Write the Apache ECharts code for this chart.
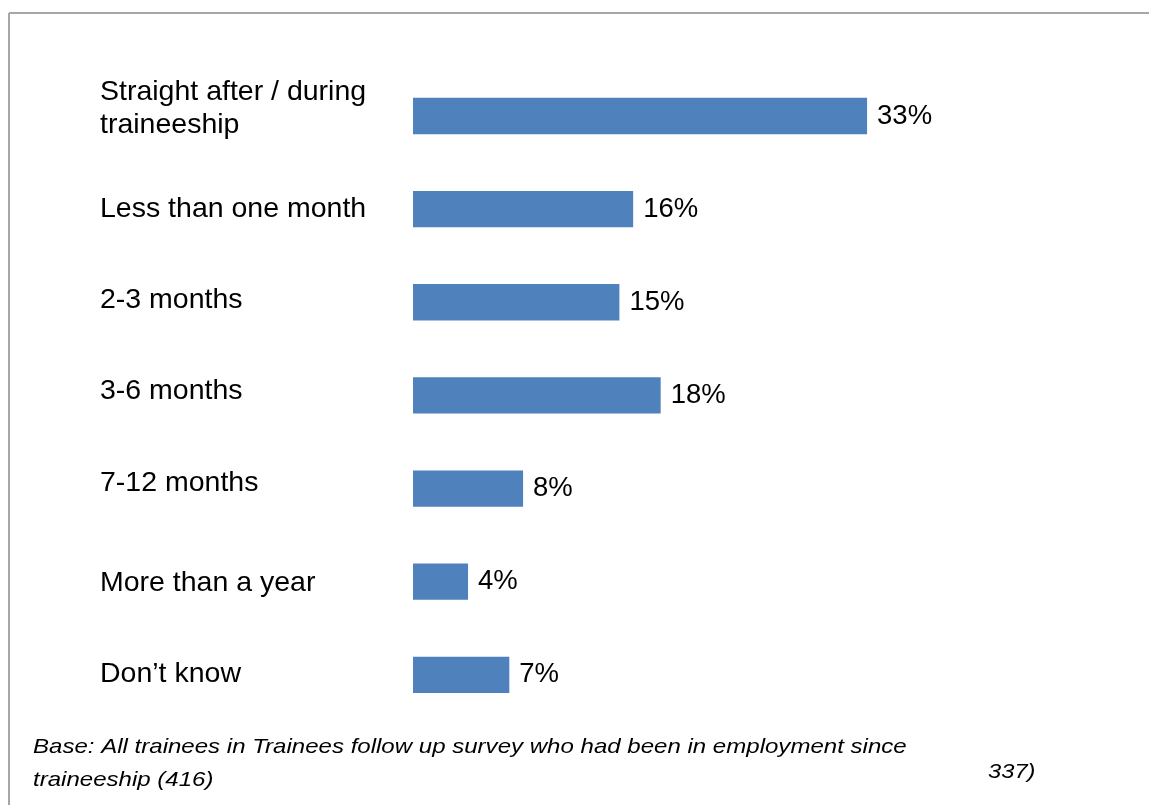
<!DOCTYPE html>
<html>
<head>
<meta charset="utf-8">
<style>
  html, body { margin: 0; padding: 0; background: #ffffff; }
  #chart { width: 1149px; height: 805px; }
</style>
<script src="https://cdn.jsdelivr.net/npm/echarts@6/dist/echarts.min.js"></script>
</head>
<body>
<div id="chart"></div>
<script>
const categories = [
  "Straight after / during\ntraineeship",
  "Less than one month",
  "2-3 months",
  "3-6 months",
  "7-12 months",
  "More than a year",
  "Don\u2019t know"
];
const values = [33, 16, 15, 18, 8, 4, 7];
const footnoteLines = [
  "Base: All trainees in Trainees follow up survey who had been in employment since",
  "traineeship (416)"
];
const footnoteRight = "337)";

const chart = echarts.init(document.getElementById('chart'), null, { renderer: 'canvas' });
const FONT = '"Liberation Sans", Arial, sans-serif';

// small per-label vertical nudges (label placement style only)
const labelPad = [0, -1, 4, 8, 10, -3, 1];
const baseTok = { fontFamily: FONT, fontSize: 28.5, lineHeight: 33, color: '#000000' };
const rich = {
  b: Object.assign({}, baseTok),
  sp: { fontFamily: FONT, fontSize: 8, lineHeight: 14 }
};
labelPad.forEach((p, i) => {
  rich['l' + i] = Object.assign({}, baseTok, { padding: p >= 0 ? [0, 0, p, 0] : [-p, 0, 0, 0] });
});

const footFont = 'italic 21px "Liberation Sans", Arial, sans-serif';

chart.setOption({
  animation: false,
  backgroundColor: '#ffffff',
  grid: { left: 413, right: 48, top: 69.4, bottom: 83.6, containLabel: false },
  xAxis: { type: 'value', min: 0, max: 50, show: false },
  yAxis: {
    type: 'category',
    inverse: true,
    data: categories,
    axisLine: { show: false },
    axisTick: { show: false },
    splitLine: { show: false },
    axisLabel: {
      align: 'left',
      margin: 313,
      color: '#000000',
      fontFamily: FONT,
      fontSize: 28.5,
      lineHeight: 33,
      formatter: function (v, i) {
        const lines = v.split('\n');
        if (lines.length > 1) {
          return lines.map(t => '{b|' + t + '}').join('\n') + '\n{sp| }';
        }
        return '{l' + i + '|' + v + '}';
      },
      rich: rich
    }
  },
  series: [{
    type: 'bar',
    data: values,
    barCategoryGap: '61%',
    itemStyle: { color: '#4f81bd' },
    label: {
      show: true,
      position: 'right',
      distance: 10,
      formatter: '{c}%',
      color: '#000000',
      fontFamily: FONT,
      fontSize: 27.5
    }
  }],
  graphic: [
    { type: 'line', shape: { x1: 9, y1: 13, x2: 1149, y2: 13 }, style: { stroke: '#a6a6a6', lineWidth: 2 } },
    { type: 'line', shape: { x1: 9, y1: 13, x2: 9, y2: 805 }, style: { stroke: '#a6a6a6', lineWidth: 2 } },
    { type: 'text', x: 33, y: 747, scaleX: 1.145, style: { text: footnoteLines[0], font: footFont, fill: '#000000', verticalAlign: 'middle' } },
    { type: 'text', x: 33, y: 780, scaleX: 1.145, style: { text: footnoteLines[1], font: footFont, fill: '#000000', verticalAlign: 'middle' } },
    { type: 'text', x: 988, y: 772, scaleX: 1.13, style: { text: footnoteRight, font: footFont, fill: '#000000', verticalAlign: 'middle' } }
  ]
});
</script>
</body>
</html>
